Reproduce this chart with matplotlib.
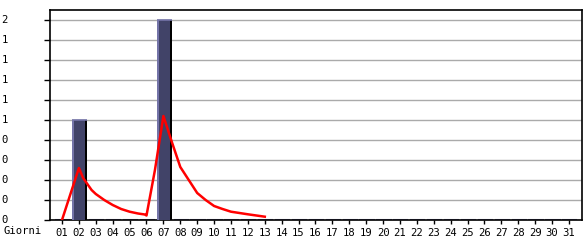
import numpy as np
import matplotlib.pyplot as plt
import matplotlib.transforms as mtransforms

plt.rcParams['font.family'] = ['DejaVu Sans Mono']

# giorni del mese e valori giornalieri
giorni = np.arange(1, 32)
etichette = ["%02d" % g for g in giorni]
valori = np.zeros(31)
valori[1] = 1   # 02
valori[6] = 2   # 07

# linea di tendenza
trend_x = [1, 2, 2.25, 2.5, 2.75, 3, 3.5, 4, 4.5, 5, 5.5, 5.9, 6,
           6.5, 7, 7.5, 8, 8.5, 9, 9.5, 10, 10.5, 11, 11.5, 12, 12.5, 13]
trend_y = [0, 0.52, 0.42, 0.36, 0.30, 0.26, 0.20, 0.15, 0.11, 0.083, 0.065, 0.055, 0.045,
           0.50, 1.04, 0.78, 0.53, 0.40, 0.27, 0.20, 0.14, 0.11, 0.083, 0.07, 0.057, 0.045, 0.033]

yticks = np.arange(0, 2.01, 0.2)
ylabels = ["%d" % int(v + 1e-9) for v in yticks]

fig = plt.figure(figsize=(5.85, 2.4), dpi=100)
ax = fig.add_axes([50 / 585, 20 / 240, 532 / 585, 210 / 240])

off = 0.05
w = 0.9
lav = "#7474a8"
ax.hlines(np.zeros(31), giorni + off - w / 2, giorni + off + w / 2, color=lav, lw=1.5, zorder=2)
ax.bar(giorni + off, valori, width=w, color="#414368", zorder=3)
ax.bar(giorni + off - w / 2 + 0.06, valori, width=0.12, color=lav, zorder=4)
ax.bar(giorni + off + w / 2 - 0.06, valori, width=0.12, color="black", zorder=4)
ax.hlines(valori[valori > 0], giorni[valori > 0] + off - w / 2, giorni[valori > 0] + off + w / 2,
          color=lav, lw=1.2, zorder=4)

ax.plot(trend_x, trend_y, color="red", lw=1.8, zorder=5)

ax.set_xlim(0.29, 31.77)
ax.set_ylim(0, 2.1)
ax.set_yticks(yticks)
ax.set_yticklabels(ylabels, fontsize=7.6, ha="left", va="center")
shift = mtransforms.ScaledTranslation(0, -1.5 / 100, fig.dpi_scale_trans)
for t in ax.get_yticklabels():
    t.set_transform(t.get_transform() + shift)
ax.set_xticks(giorni)
ax.set_xticklabels(etichette, fontsize=7.6)
ax.tick_params(axis="y", length=4, pad=31, width=1)
ax.tick_params(axis="x", length=3, pad=2.5, width=1)
ax.yaxis.grid(True, color="#aaaaaa", lw=1)
ax.set_axisbelow(True)
for s in ax.spines.values():
    s.set_linewidth(1.2)

fig.text(3 / 585, 1 - 231 / 240, "Giorni", fontsize=7.6, va="center", ha="left")

fig.savefig("out.png", dpi=100)
